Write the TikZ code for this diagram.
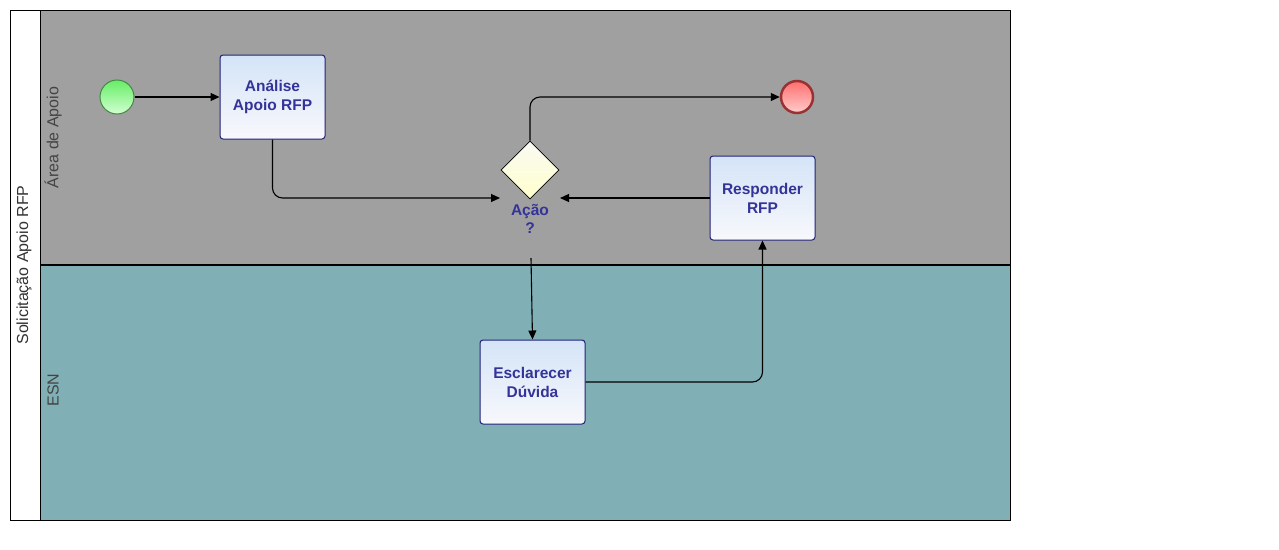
\documentclass[tikz,border=0pt]{standalone}
\usepackage{fontspec}
\setmainfont{Liberation Sans}
\usetikzlibrary{shapes.geometric,arrows.meta,shadings}
\definecolor{laneA}{RGB}{160,160,160}
\definecolor{laneB}{RGB}{128,176,181}
\definecolor{tasktxt}{RGB}{51,51,153}
\definecolor{taskborder}{RGB}{34,34,120}
\definecolor{tasktop}{RGB}{212,228,247}
\definecolor{taskbot}{RGB}{248,248,252}
\definecolor{lbl}{RGB}{68,68,68}
\tikzset{
  taskbox/.style={draw=taskborder, line width=1pt, rounded corners=3pt, top color=tasktop, bottom color=taskbot,
    minimum width=105pt, minimum height=84pt, inner sep=0pt, align=center, text=tasktxt,
    font=\fontsize{15.5}{19}\selectfont\bfseries},
  startev/.style={circle, draw={rgb,255:red,68;green,136;blue,68}, line width=1pt, top color={rgb,255:red,102;green,238;blue,102},
    bottom color={rgb,255:red,210;green,255;blue,210}, minimum size=34pt, inner sep=0pt},
  endev/.style={circle, draw={rgb,255:red,153;green,51;blue,51}, line width=2.5pt, top color={rgb,255:red,255;green,110;blue,110},
    bottom color={rgb,255:red,255;green,205;blue,205}, minimum size=32pt, inner sep=0pt},
  gateway/.style={diamond, draw=black, line width=0.8pt, top color={rgb,255:red,250;green,250;blue,244},
    bottom color={rgb,255:red,255;green,255;blue,204}, minimum width=58pt, minimum height=58pt, inner sep=0pt, aspect=1},
  gwlabel/.style={text=tasktxt, align=center, font=\fontsize{15.5}{18}\selectfont\bfseries},
  flow/.style={draw=black, line width=1.1pt, -{Triangle[length=9pt,width=8pt]}},
  lanelabel/.style={text=lbl, rotate=90, font=\fontsize{16}{19}\selectfont},
}
\begin{document}
\begin{tikzpicture}[x=1pt,y=-1pt]
\useasboundingbox (0,0) rectangle (1279,549);
\fill[white] (0,0) rectangle (1279,549);
% lanes
\fill[laneA] (40,10) rectangle (1010,265);
\fill[laneB] (40,265) rectangle (1010,520);
\draw[line width=1pt] (10,10) rectangle (1010,520);
\draw[line width=1pt] (40,10) -- (40,520);
\draw[line width=2pt] (40,265) -- (1010,265);
\node[lanelabel, text={rgb,255:red,51;green,51;blue,51}] (pool) at (24,265) {Solicitação Apoio RFP};
\node[lanelabel] (laneAlbl) at (53,137.5) {Área de Apoio};
\node[lanelabel] (laneBlbl) at (53,390) {ESN};
% nodes
\node[startev] (start) at (117,97) {};
\node[taskbox] (ana) at (272.5,97) {Análise\\Apoio RFP};
\node[gateway] (gw) at (530,170) {};
\node[gwlabel] (gwl) at (530,219) {Ação\\?};
\node[endev] (end) at (797,97) {};
\node[taskbox] (resp) at (762.5,198) {Responder\\RFP};
\node[taskbox] (escl) at (532.5,382) {Esclarecer\\Dúvida};
\coordinate (gwinL) at (500,198);
\coordinate (gwinR) at (560,198);
\coordinate (gwout) at (531,258);
% flows
\draw[flow] (start) -- (ana);
\draw[flow, rounded corners=10pt] (ana.south) |- (gwinL);
\draw[flow] (resp.west) -- (gwinR);
\draw[flow, rounded corners=10pt] (gw.north) |- (end.west);
\draw[flow] (gwout) -- (escl.north);
\draw[flow, rounded corners=10pt] (escl.east) -| (resp.south);
\end{tikzpicture}
\end{document}
